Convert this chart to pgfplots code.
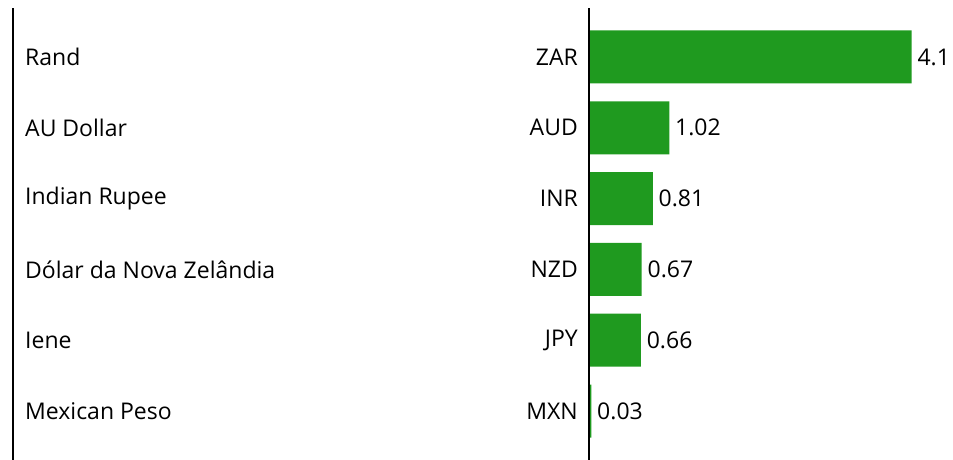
\documentclass[border=0pt]{standalone}
\usepackage{pgfplots}
\pgfplotsset{compat=1.18}
\usepackage{fontspec}
\setmainfont{Open Sans}
\definecolor{bargreen}{HTML}{1F9A1F}
\tikzset{
  lbl/.style={anchor=west, inner sep=0pt, xshift=12pt},
  code/.style={anchor=east, inner sep=0pt, xshift=-11pt},
}
\begin{document}
\fontsize{23}{27}\selectfont
\begin{tikzpicture}
\path[use as bounding box] (-13pt,0) rectangle (940pt,460pt);
\begin{axis}[
  at={(0,0)}, anchor=south west,
  scale only axis, width=940pt, height=452pt,
  xmin=-7.319, xmax=4.625,
  ymin=-0.692, ymax=5.692,
  axis x line=none,
  axis y line*=left,
  y axis line style={black, line width=1.5pt},
  ytick=\empty, xtick=\empty,
  clip=false,
  every node near coord/.append style={font=\fontsize{23}{27}\selectfont, anchor=west, xshift=-2pt, black},
]
\addplot[xbar, bar width=53pt, fill=bargreen, draw=none, nodes near coords,
  point meta=explicit symbolic]
  coordinates {(0.03,0) [0.03] (0.66,1) [0.66] (0.67,2) [0.67] (0.81,3) [0.81] (1.02,4) [1.02] (4.1,5) [4.1]};
\addplot[black, line width=1.5pt] coordinates {(0,-0.692) (0,5.692)};
\node[lbl] at (axis cs:-7.319,0) {Mexican Peso};
\node[lbl] at (axis cs:-7.319,1) {Iene};
\node[lbl] at (axis cs:-7.319,2) {Dólar da Nova Zelândia};
\node[lbl] at (axis cs:-7.319,3) {Indian Rupee};
\node[lbl] at (axis cs:-7.319,4) {AU Dollar};
\node[lbl] at (axis cs:-7.319,5) {Rand};
\node[code] at (axis cs:0,0) {MXN};
\node[code] at (axis cs:0,1) {JPY};
\node[code] at (axis cs:0,2) {NZD};
\node[code] at (axis cs:0,3) {INR};
\node[code] at (axis cs:0,4) {AUD};
\node[code] at (axis cs:0,5) {ZAR};
\end{axis}
\end{tikzpicture}
\end{document}
